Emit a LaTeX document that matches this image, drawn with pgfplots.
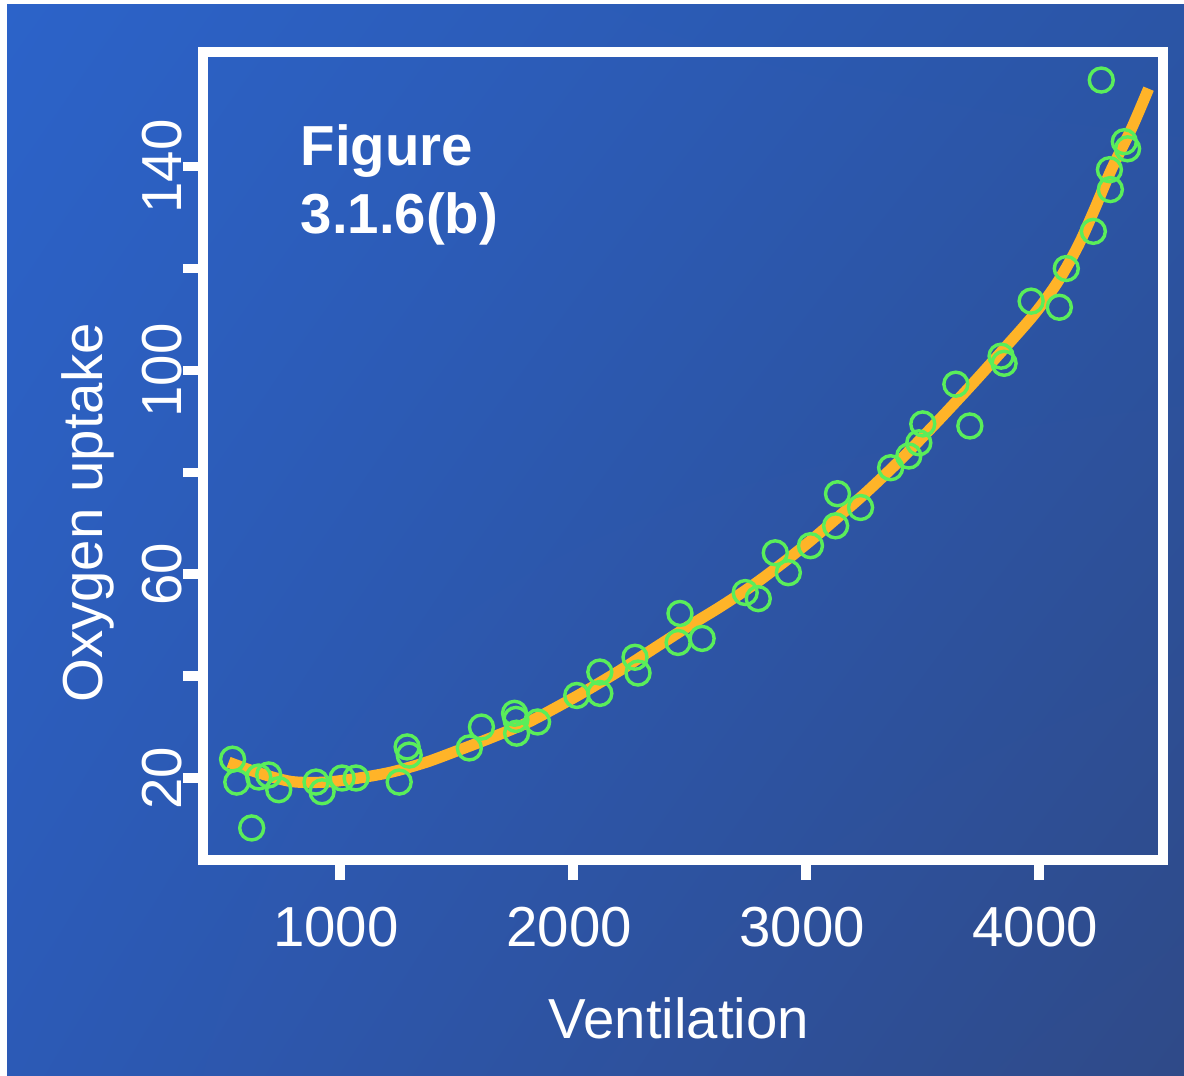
\documentclass[border=0pt]{standalone}
\usepackage{pgfplots}
\pgfplotsset{compat=1.18}
\usetikzlibrary{shadings}
\usepackage{fontspec}
\setmainfont{Liberation Sans}
\definecolor{bgUL}{RGB}{44,99,201}
\definecolor{bgUR}{RGB}{43,85,166}
\definecolor{bgLL}{RGB}{44,90,182}
\definecolor{bgLR}{RGB}{47,74,136}
\definecolor{ptgreen}{RGB}{90,238,90}
\definecolor{fitorange}{RGB}{255,180,40}
\pgfplotstableread{
x y
539 23.7
557 19.2
621 10.2
651 20.2
694 20.6
737 17.7
897 19.2
923 17.3
1009 20.0
1069 20.0
1254 19.2
1288 26.1
1297 24.5
1555 25.9
1607 30.0
1749 32.7
1758 28.8
1755 31.5
1848 31.0
2016 36.2
2115 40.8
2115 36.6
2266 43.7
2279 40.6
2459 52.3
2451 46.6
2554 47.4
2739 56.4
2795 55.2
2868 64.2
2924 60.3
3019 65.6
3135 75.8
3127 69.5
3234 73.1
3363 80.9
3441 83.2
3484 85.8
3501 89.5
3703 89.1
3643 97.3
3837 102.8
3850 101.4
3966 113.6
4087 112.4
4117 120.0
4233 127.3
4302 139.4
4306 135.5
4366 144.9
4380 143.5
4267 157.0
}\ptsdata
\pgfplotstableread{
x y
522 23.1
651 21.0
793 19.3
940 19.2
1082 20.0
1224 21.2
1370 23.1
1512 25.5
1654 28.0
1801 30.8
1930 33.9
2059 37.2
2201 41.1
2343 45.3
2489 49.6
2632 53.6
2774 57.9
2900 62.2
3020 66.6
3140 71.3
3264 76.3
3406 82.5
3548 89.2
3695 96.4
3837 103.6
3979 111.0
4082 117.5
4168 124.5
4237 131.5
4310 139.4
4396 147.4
4470 155.3
}\fitdata
\begin{document}
\begin{tikzpicture}
\useasboundingbox (0,0) rectangle (296pt,268.75pt);
\fill[white] (0,0) rectangle (296pt,268.75pt);
\shade[upper left=bgUL, upper right=bgUR, lower left=bgLL, lower right=bgLR] (1.75pt,0pt) rectangle (296pt,267.75pt);
\begin{axis}[
  at={(50.75pt,53.75pt)}, anchor=south west,
  width=240pt, height=202pt, scale only axis,
  xmin=412, xmax=4532, ymin=3.9, ymax=162.5,
  axis line style={draw=white, line width=2.4pt},
  tick style={draw=white, line width=2.4pt},
  major tick length=5pt, tick align=outside,
  xtick pos=left, ytick pos=left,
  xtick={1000,2000,3000,4000},
  ytick={20,40,60,80,100,120,140},
  yticklabels={20,,60,,100,,140},
  /pgf/number format/assume math mode=true,
  /pgf/number format/1000 sep={},
  tick label style={text=white, font=\fontsize{14.1}{17}\selectfont},
  xticklabel style={anchor=base, yshift=-16.5pt, xshift=-1pt},
  yticklabel style={rotate=90, anchor=south, inner sep=0pt},
  xlabel={Ventilation},
  xlabel style={at={(axis description cs:0.5,0)}, anchor=base, yshift=-44.5pt, xshift=-1pt, text=white, font=\fontsize{14.1}{17}\selectfont},
  ylabel={Oxygen uptake},
  ylabel style={at={(axis description cs:-0.1042,0.4295)}, rotate=0, anchor=base, text=white, font=\fontsize{14.1}{17}\selectfont},
  clip=false,
]
\addplot[fitorange, line width=2.8pt, smooth, no markers] table {\fitdata};
\addplot[only marks, mark=o, mark size=3pt, ptgreen, mark options={line width=0.85pt}] table {\ptsdata};
\node[anchor=base west, inner sep=0pt, text=white, font=\fontsize{14.1}{17}\selectfont\bfseries] at (axis description cs:0.101,0.860) {Figure};
\node[anchor=base west, inner sep=0pt, text=white, font=\fontsize{14.1}{17}\selectfont\bfseries] at (axis description cs:0.101,0.776) {3.1.6(b)};
\end{axis}
\end{tikzpicture}
\end{document}
